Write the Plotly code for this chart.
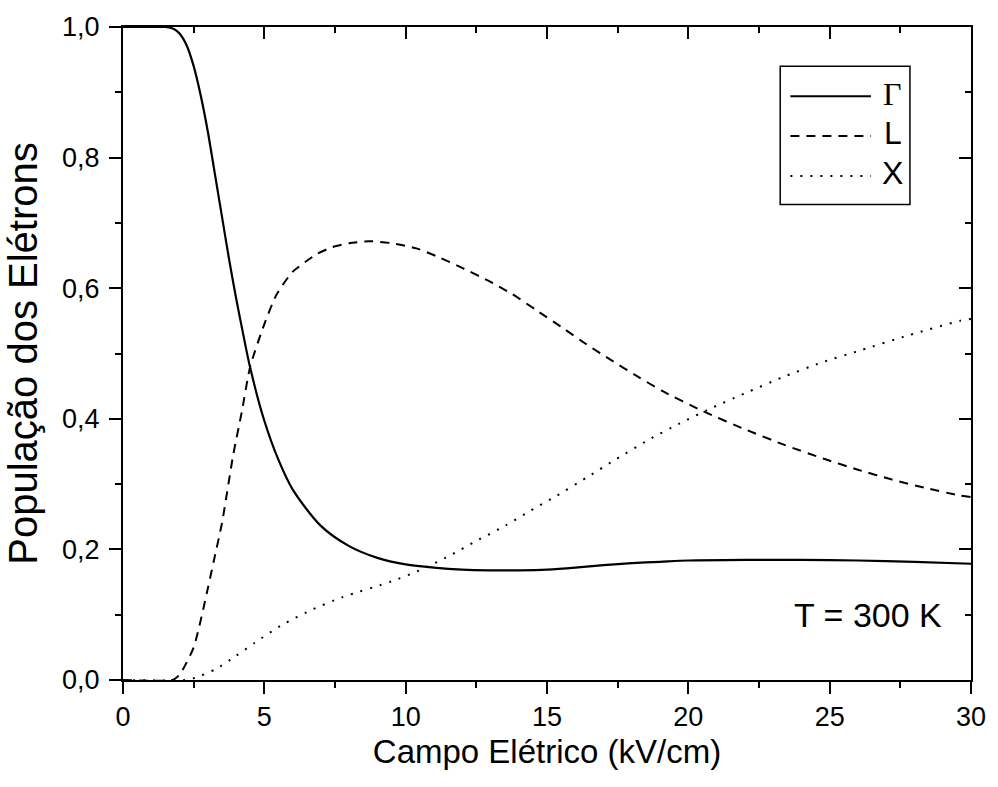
import plotly.graph_objects as go

# Gamma valley population (solid)
gamma_x = [0, 1.0, 1.5, 1.8, 2.0, 2.25, 2.5, 2.75, 3.0, 3.25, 3.5, 3.75, 4.0, 4.25, 4.5, 5.0, 5.5,
           6.0, 7.0, 8.0, 9.0, 10.0, 11, 12, 13, 14, 15, 16, 17, 18, 19, 20, 22, 24, 26, 28, 30]
gamma_y = [1.0, 1.0, 1.0, 0.997, 0.99, 0.972, 0.94, 0.895, 0.84, 0.775, 0.71, 0.645, 0.585, 0.53,
           0.478, 0.397, 0.337, 0.292, 0.236, 0.205, 0.187, 0.177, 0.172, 0.169, 0.168, 0.168,
           0.169, 0.172, 0.176, 0.179, 0.181, 0.183, 0.184, 0.184, 0.183, 0.181, 0.178]

# L valley population (dashed)
l_x = [0, 1.75, 2.0, 2.5, 3.0, 3.2, 3.5, 3.9, 4.2, 4.5, 5.0, 5.43, 6.0, 6.85, 7.41, 8.0, 8.72,
       9.5, 10.38, 11.2, 12.0, 12.9, 13.77, 14.6, 15.53, 16.4, 17.3, 18.2, 19.06, 20.5, 22.0,
       23.4, 24.85, 26.0, 27.2, 28.4, 29.55, 30]
l_y = [0, 0, 0.008, 0.05, 0.14, 0.18, 0.24, 0.345, 0.41, 0.48, 0.545, 0.59, 0.625, 0.652, 0.663,
       0.669, 0.672, 0.669, 0.661, 0.647, 0.631, 0.612, 0.591, 0.567, 0.540, 0.514, 0.489,
       0.465, 0.443, 0.412, 0.384, 0.36, 0.338, 0.322, 0.307, 0.294, 0.283, 0.28]

# X valley population (dotted)
xv_x = [0, 2.2, 2.6, 3.3, 4.0, 4.66, 5.65, 6.7, 7.77, 9.5, 10.5, 11.54, 12.5, 13.55, 14.4, 15.3,
        16.4, 17.44, 18.6, 19.7, 20.9, 22.0, 23.3, 24.7, 26.1, 27.8, 29.6, 30]
xv_y = [0, 0, 0.004, 0.017, 0.037, 0.057, 0.085, 0.108, 0.127, 0.151, 0.168, 0.19, 0.213, 0.237,
        0.259, 0.281, 0.31, 0.338, 0.368, 0.393, 0.418, 0.439, 0.463, 0.486, 0.505, 0.528,
        0.55, 0.553]

x_ticks = [0, 5, 10, 15, 20, 25, 30]
y_ticks = [0.0, 0.2, 0.4, 0.6, 0.8, 1.0]
y_tick_labels = ["0,0", "0,2", "0,4", "0,6", "0,8", "1,0"]

FONT = "Liberation Sans, Arial, Helvetica, sans-serif"
SERIF = "Liberation Serif, Times New Roman, serif"

fig = go.Figure()
fig.add_trace(go.Scatter(x=gamma_x, y=gamma_y, mode="lines", name="Γ",
                         line=dict(color="black", width=2.2, shape="spline", smoothing=0.8),
                         showlegend=False))
fig.add_trace(go.Scatter(x=l_x, y=l_y, mode="lines", name="L",
                         line=dict(color="black", width=2, dash="9px,7px", shape="spline", smoothing=0.6),
                         showlegend=False))
fig.add_trace(go.Scatter(x=xv_x, y=xv_y, mode="lines", name="X",
                         line=dict(color="black", width=2, dash="2px,8px", shape="spline", smoothing=0.6),
                         showlegend=False))

axis_common = dict(showline=True, linecolor="black", linewidth=2, showgrid=False, zeroline=False,
                   tickcolor="black", tickwidth=2)

fig.update_layout(
    width=998, height=787,
    margin=dict(l=123, r=25, t=18, b=107),
    paper_bgcolor="white", plot_bgcolor="white",
    font=dict(family=FONT, color="black"),
    xaxis=dict(range=[0, 30], tickmode="array", tickvals=x_ticks, ticktext=[str(v) for v in x_ticks],
               ticks="outside", ticklen=12,
               minor=dict(dtick=2.5, tick0=0, ticks="outside", ticklen=6, tickwidth=2, tickcolor="black"),
               tickfont=dict(size=27, family=FONT),
               title=dict(text="Campo Elétrico (kV/cm)", font=dict(size=33, family=FONT), standoff=8),
               **axis_common),
    yaxis=dict(range=[0, 1], tickmode="array", tickvals=y_ticks, ticktext=y_tick_labels,
               ticks="outside", ticklen=12, ticklabelstandoff=4,
               minor=dict(dtick=0.1, tick0=0, ticks="outside", ticklen=6, tickwidth=2, tickcolor="black"),
               tickfont=dict(size=27, family=FONT),
               title=dict(text="População dos Elétrons", font=dict(size=40, family=FONT), standoff=12),
               **axis_common),
    xaxis2=dict(range=[0, 30], overlaying="x", side="top", matches="x", tickmode="array",
                tickvals=x_ticks, showticklabels=False, ticks="inside", ticklen=12,
                minor=dict(dtick=2.5, tick0=0, ticks="inside", ticklen=6, tickwidth=2, tickcolor="black"),
                **axis_common),
    yaxis2=dict(range=[0, 1], overlaying="y", side="right", matches="y", tickmode="array",
                tickvals=y_ticks, showticklabels=False, ticks="inside", ticklen=12,
                minor=dict(dtick=0.1, tick0=0, ticks="inside", ticklen=6, tickwidth=2, tickcolor="black"),
                **axis_common),
)

# invisible anchor trace so the mirrored axes render
fig.add_trace(go.Scatter(x=[None], y=[None], xaxis="x2", yaxis="y2", showlegend=False,
                         hoverinfo="skip"))

# manual legend box (paper coordinates)
fig.add_shape(type="rect", xref="paper", yref="paper", x0=0.775, x1=0.928, y0=0.728, y1=0.940,
              line=dict(color="black", width=1.5), fillcolor="white", layer="above")
legend_rows = [("Γ", 0.894, None, SERIF), ("L", 0.833, "9px,7px", FONT), ("X", 0.772, "2px,8px", FONT)]
for name, yy, dash, fam in legend_rows:
    ln = dict(color="black", width=2)
    if dash:
        ln["dash"] = dash
    fig.add_shape(type="line", xref="paper", yref="paper", x0=0.787, x1=0.882, y0=yy, y1=yy,
                  line=ln, layer="above")
    fig.add_annotation(text=name, xref="paper", yref="paper", x=0.908, y=yy + 0.004,
                       xanchor="center", yanchor="middle", showarrow=False,
                       font=dict(size=32, family=fam, color="black"))

fig.add_annotation(text="T = 300 K", xref="paper", yref="paper", x=0.879, y=0.10,
                   xanchor="center", yanchor="middle", showarrow=False,
                   font=dict(size=34, family=FONT, color="black"))

fig.write_html("out.html")
